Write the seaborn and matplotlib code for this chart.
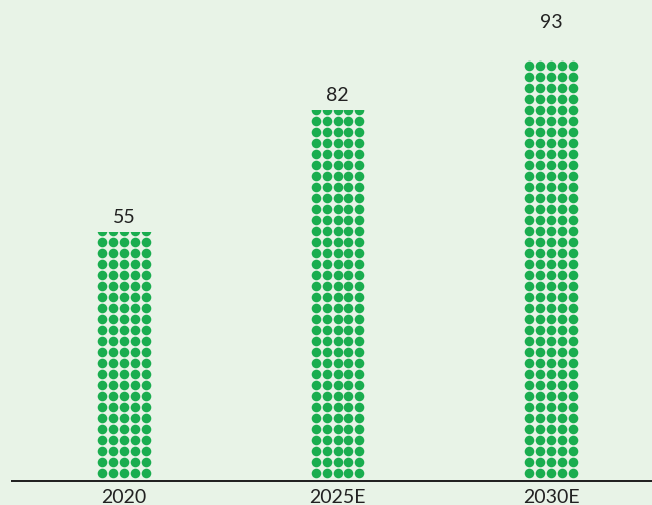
import matplotlib
matplotlib.use("Agg")
import matplotlib.pyplot as plt
import numpy as np
import pandas as pd
import seaborn as sns

# Data
years = ["2020", "2025E", "2030E"]
values = [55, 82, 93]

# Styling
bg_color = "#e8f3e7"
dot_color = "#1aad4f"
text_color = "#222222"
label_pad_px = [7, 7, 30]      # gap between bar top and its value label
dot_pitch_x_px = 10.8          # horizontal spacing of dots
dot_pitch_y_px = 11.0          # vertical spacing of dots
dot_offset_px = 7.7            # first row centre above the baseline
dot_diam_px = 9.6
dots_per_row = 5

sns.set_theme(style="white")
plt.rcParams["font.family"] = ["Lato", "DejaVu Sans"]

df = pd.DataFrame({"year": years, "value": values})

fig = plt.figure(figsize=(6.52, 5.06), dpi=100, facecolor=bg_color)
ax = fig.add_axes([12 / 652, 24 / 506, 640 / 652, 482 / 506])
ax.set_facecolor(bg_color)

# x-axis: 213.5 px between categories
px_per_cat = 213.5
bar_width = dots_per_row * dot_pitch_x_px / px_per_cat

sns.barplot(data=df, x="year", y="value", width=bar_width, errorbar=None,
            color=dot_color, ax=ax)

ax.set_xlim(-112 / px_per_cat, 528 / px_per_cat)
px_per_unit = 4.527
ax.set_ylim(0, 482 / px_per_unit)

pitch_x = dot_pitch_x_px / px_per_cat
pitch_y = dot_pitch_y_px / px_per_unit
offset_y = dot_offset_px / px_per_unit
dot_size = (dot_diam_px * 72 / fig.dpi) ** 2

for patch, val, pad in zip(ax.patches, values, label_pad_px):
    patch.set_facecolor("none")
    patch.set_edgecolor("none")
    cx = patch.get_x() + patch.get_width() / 2
    top = patch.get_y() + patch.get_height()
    cols = cx + (np.arange(dots_per_row) - (dots_per_row - 1) / 2) * pitch_x
    rows = np.arange(offset_y, top + pitch_y, pitch_y)
    gx, gy = np.meshgrid(cols, rows)
    sc = ax.scatter(gx.ravel(), gy.ravel(), s=dot_size, color=dot_color,
                    linewidths=0, zorder=3)
    sc.set_clip_path(patch)
    ax.annotate(f"{val}", xy=(cx, top), xytext=(0, pad * 72 / fig.dpi),
                textcoords="offset points", ha="center", va="bottom",
                fontsize=14, color=text_color)

ax.set_xlabel("")
ax.set_ylabel("")
ax.set_yticks([])
ax.tick_params(axis="x", length=0, pad=5, labelsize=14, labelcolor=text_color)
for side in ["left", "top", "right"]:
    ax.spines[side].set_visible(False)
ax.spines["bottom"].set_color(text_color)
ax.spines["bottom"].set_linewidth(2 * 72 / fig.dpi)

fig.savefig("out.png", dpi=100, facecolor=bg_color)
